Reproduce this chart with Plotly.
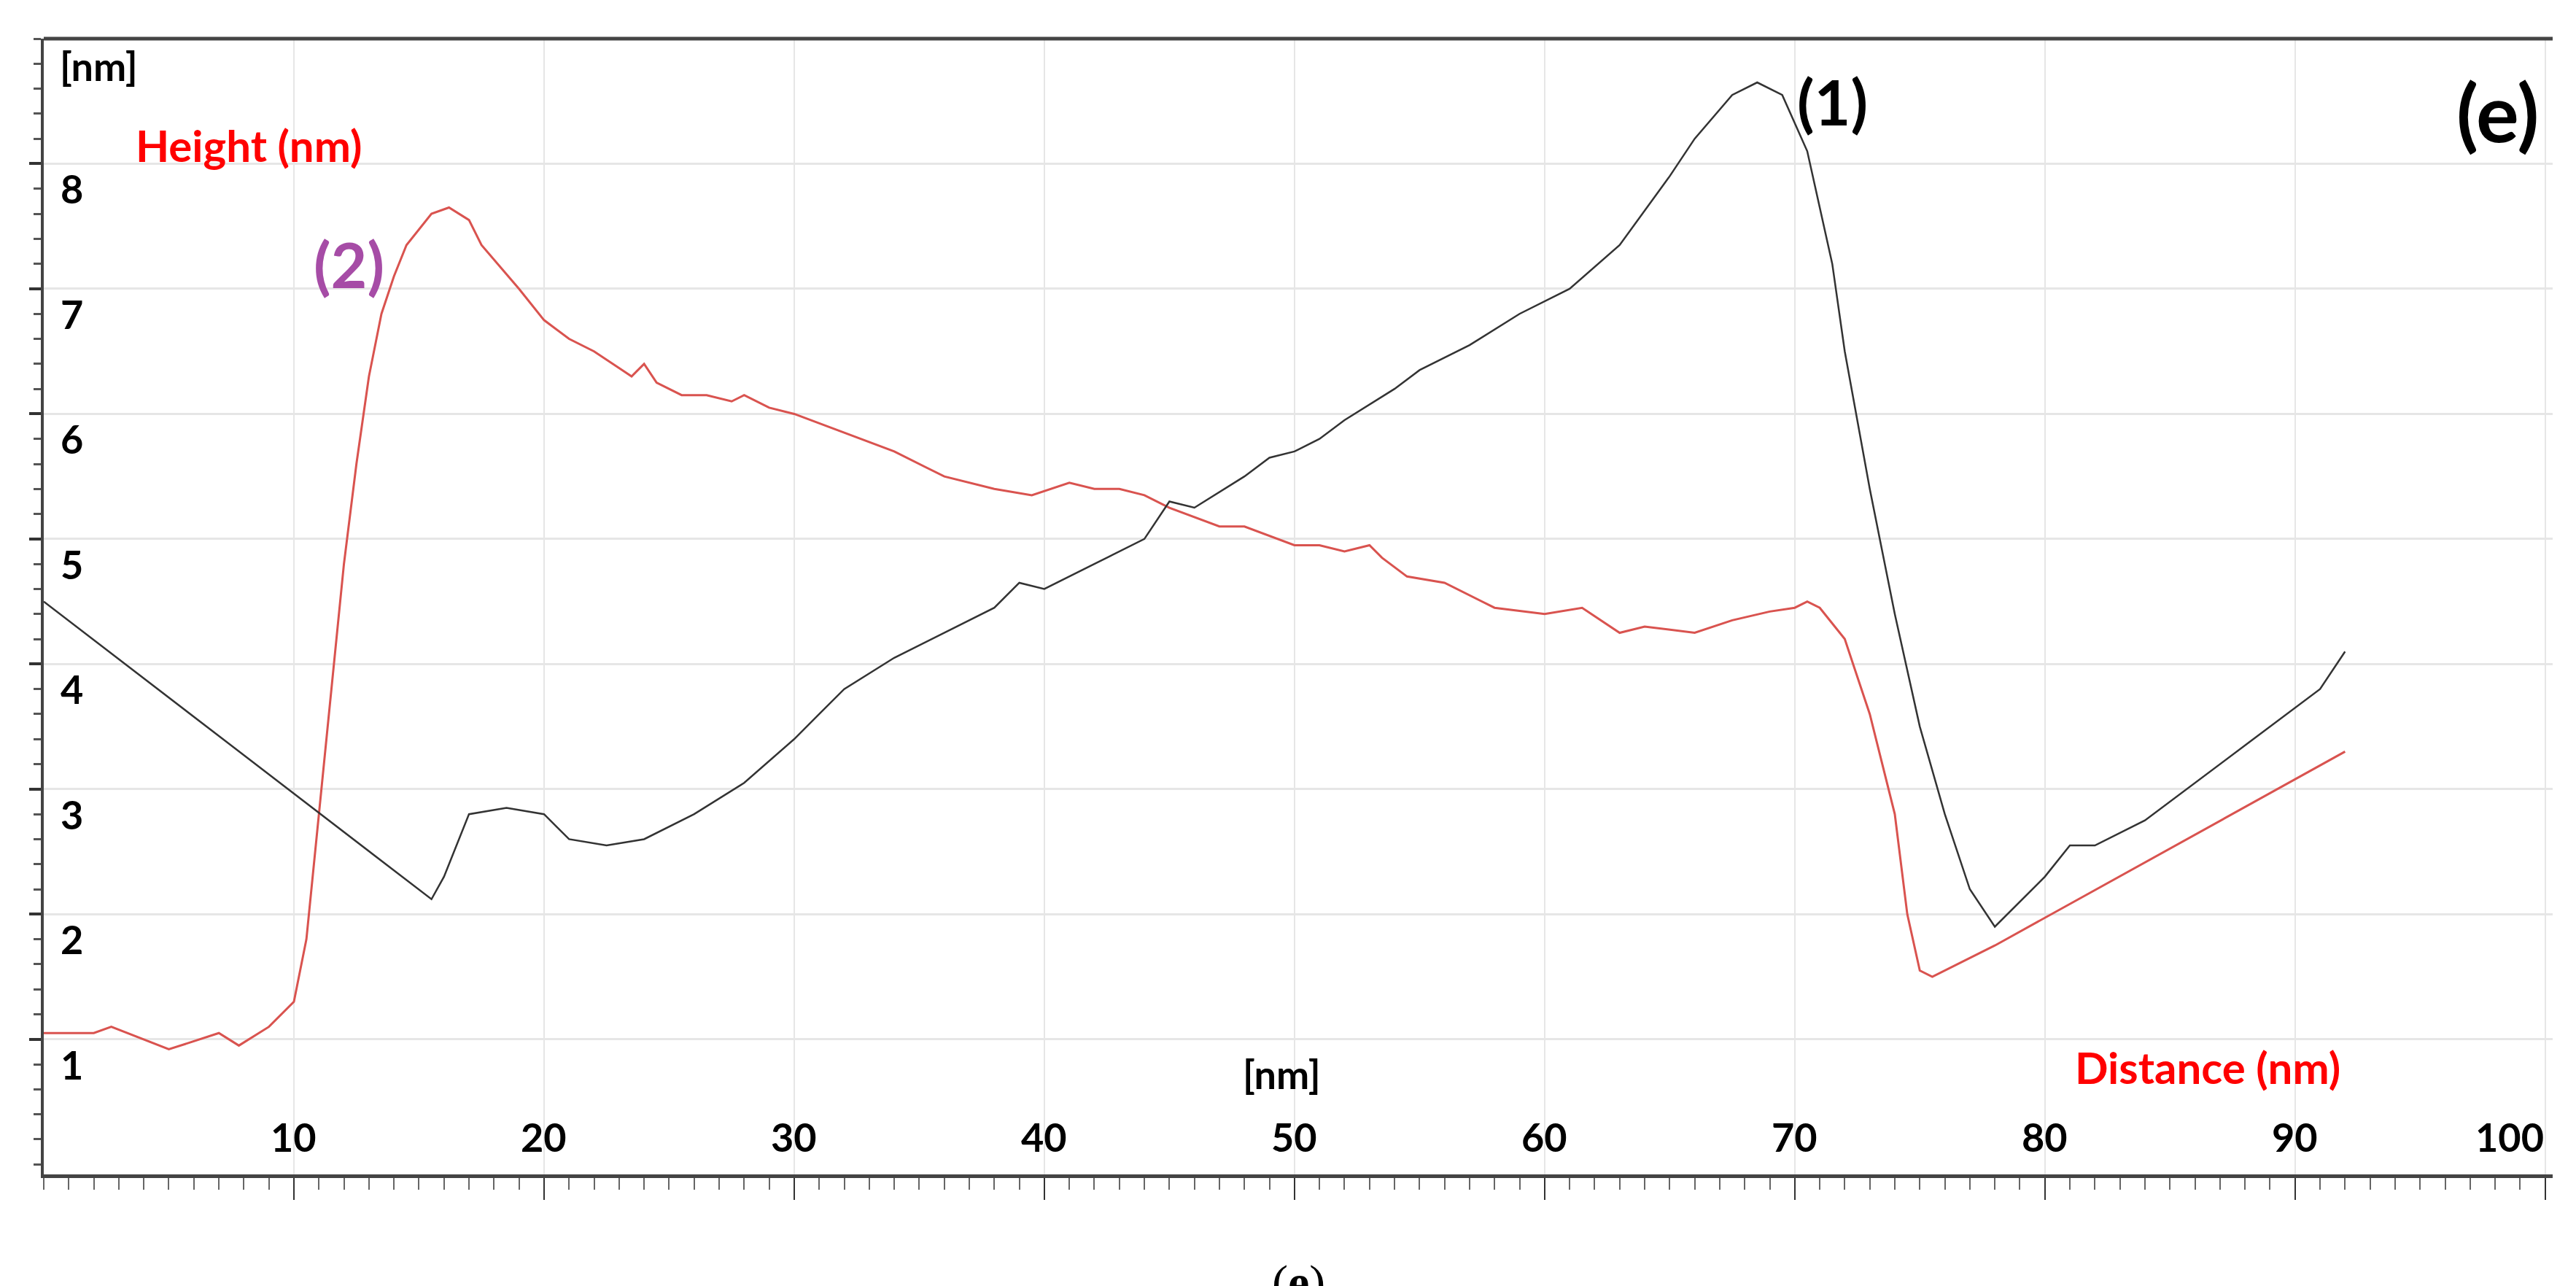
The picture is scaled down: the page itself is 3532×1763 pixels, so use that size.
import plotly.graph_objects as go

# curve (2), red
x2 = [0, 2, 2.7, 5, 7, 7.8, 9, 10, 10.5, 11, 11.5, 12, 12.5, 13, 13.5, 14, 14.5, 15.5, 16.2, 17, 17.5, 19, 20, 21, 22,
      23.5, 24, 24.5, 25.5, 26.5, 27.5, 28, 29, 30, 32, 34, 36, 38, 39.5, 41, 42, 43, 44, 45, 47, 48, 50, 51, 52, 53,
      53.5, 54.5, 56, 57, 58, 60, 61.5, 63, 64, 66, 67.5, 69, 70, 70.5, 71, 72, 73, 74, 74.5, 75, 75.5, 78, 92]
y2 = [1.05, 1.05, 1.1, 0.92, 1.05, 0.95, 1.1, 1.3, 1.8, 2.8, 3.8, 4.8, 5.6, 6.3, 6.8, 7.1, 7.35, 7.6, 7.65, 7.55, 7.35,
      7.0, 6.75, 6.6, 6.5, 6.3, 6.4, 6.25, 6.15, 6.15, 6.1, 6.15, 6.05, 6.0, 5.85, 5.7, 5.5, 5.4, 5.35, 5.45, 5.4, 5.4,
      5.35, 5.25, 5.1, 5.1, 4.95, 4.95, 4.9, 4.95, 4.85, 4.7, 4.65, 4.55, 4.45, 4.4, 4.45, 4.25, 4.3, 4.25, 4.35, 4.42,
      4.45, 4.5, 4.45, 4.2, 3.6, 2.8, 2.0, 1.55, 1.5, 1.75, 3.3]

# curve (1), black
x1 = [0, 15.5, 16, 17, 18.5, 20, 21, 22.5, 24, 25, 26, 28, 30, 31, 32, 34, 36, 38, 39, 40, 42, 44, 45, 46, 48, 49,
      50, 51, 52, 54, 55, 57, 59, 61, 63, 65, 66, 67.5, 68.5, 69.5, 70.5, 71.5, 72, 73, 74, 75, 76, 77, 78, 79, 80,
      81, 82, 84, 86, 88, 90, 91, 92]
y1 = [4.5, 2.12, 2.3, 2.8, 2.85, 2.8, 2.6, 2.55, 2.6, 2.7, 2.8, 3.05, 3.4, 3.6, 3.8, 4.05, 4.25, 4.45, 4.65, 4.6, 4.8,
      5.0, 5.3, 5.25, 5.5, 5.65, 5.7, 5.8, 5.95, 6.2, 6.35, 6.55, 6.8, 7.0, 7.35, 7.9, 8.2, 8.55, 8.65, 8.55, 8.1,
      7.2, 6.5, 5.4, 4.4, 3.5, 2.8, 2.2, 1.9, 2.1, 2.3, 2.55, 2.55, 2.75, 3.05, 3.35, 3.65, 3.8, 4.1]

xticks = [10, 20, 30, 40, 50, 60, 70, 80, 90, 100]
yticks = [1, 2, 3, 4, 5, 6, 7, 8]

fnt = "Lato"
fig = go.Figure()
fig.add_trace(go.Scatter(x=x2, y=y2, mode='lines', line=dict(color='#d9534f', width=3), showlegend=False))
fig.add_trace(go.Scatter(x=x1, y=y1, mode='lines', line=dict(color='#333333', width=2.5), showlegend=False))

anns = [
    dict(x=71.5, y=8.5, text="<b>(1)</b>", font=dict(size=86, color='black')),
    dict(x=12.2, y=7.2, text="<b>(2)</b>", font=dict(size=86, color='#a64ca6')),
    dict(x=8.2, y=8.15, text="<b>Height (nm)</b>", font=dict(size=60, color='red')),
    dict(x=2.2, y=8.78, text="<b>[nm]</b>", font=dict(size=54, color='black')),
    dict(x=49.5, y=0.72, text="<b>[nm]</b>", font=dict(size=54, color='black')),
    dict(x=86.5, y=0.78, text="<b>Distance (nm)</b>", font=dict(size=60, color='red')),
]
for a in anns:
    fig.add_annotation(showarrow=False, **a)
fig.add_annotation(xref='paper', yref='paper', x=0.995, y=0.98, xanchor='right', yanchor='top', showarrow=False,
                   text="<b>(e)</b>", font=dict(size=110, color='black'))
fig.add_annotation(xref='paper', yref='paper', x=0.5, y=-0.07, yanchor='top', showarrow=False,
                   text="(<b>e</b>)", font=dict(size=66, color='black', family="Liberation Serif"))
# tick labels drawn inside the plot
for t in xticks:
    fig.add_annotation(x=t, y=0.02, yanchor='bottom', xanchor='right' if t == 100 else 'center', showarrow=False,
                       text="<b>%d</b>" % t, font=dict(size=54, color='black'))
for t in yticks:
    fig.add_annotation(x=0.6, y=t, xanchor='left', yanchor='top', showarrow=False, text="<b>%d</b>" % t,
                       font=dict(size=54, color='black'))

fig.update_xaxes(range=[0, 100.3], tickvals=xticks, showticklabels=False, showgrid=True, gridcolor='#e6e6e6',
                 gridwidth=2, zeroline=False, showline=True, linecolor='#444', linewidth=5, mirror=False,
                 ticks='outside', ticklen=30, tickwidth=2, tickcolor='#333',
                 minor=dict(dtick=1, ticks='outside', ticklen=16, tickwidth=2, tickcolor='#666', showgrid=False))
fig.update_yaxes(range=[-0.08, 9.0], tickvals=yticks, showticklabels=False, showgrid=True, gridcolor='#e6e6e6',
                 gridwidth=3, zeroline=False, showline=True, linecolor='#444', linewidth=4,
                 ticks='outside', ticklen=16, tickwidth=4, tickcolor='#333',
                 minor=dict(dtick=0.2, ticks='outside', ticklen=10, tickwidth=3, tickcolor='#555', showgrid=False))
fig.add_shape(type='line', xref='paper', yref='paper', x0=0, x1=1, y0=1, y1=1, line=dict(color='#444', width=5))
fig.update_layout(width=3532, height=1763, plot_bgcolor='white', paper_bgcolor='white',
                  margin=dict(l=52, r=40, t=45, b=161), font=dict(family=fnt))
fig.write_html("out.html")
